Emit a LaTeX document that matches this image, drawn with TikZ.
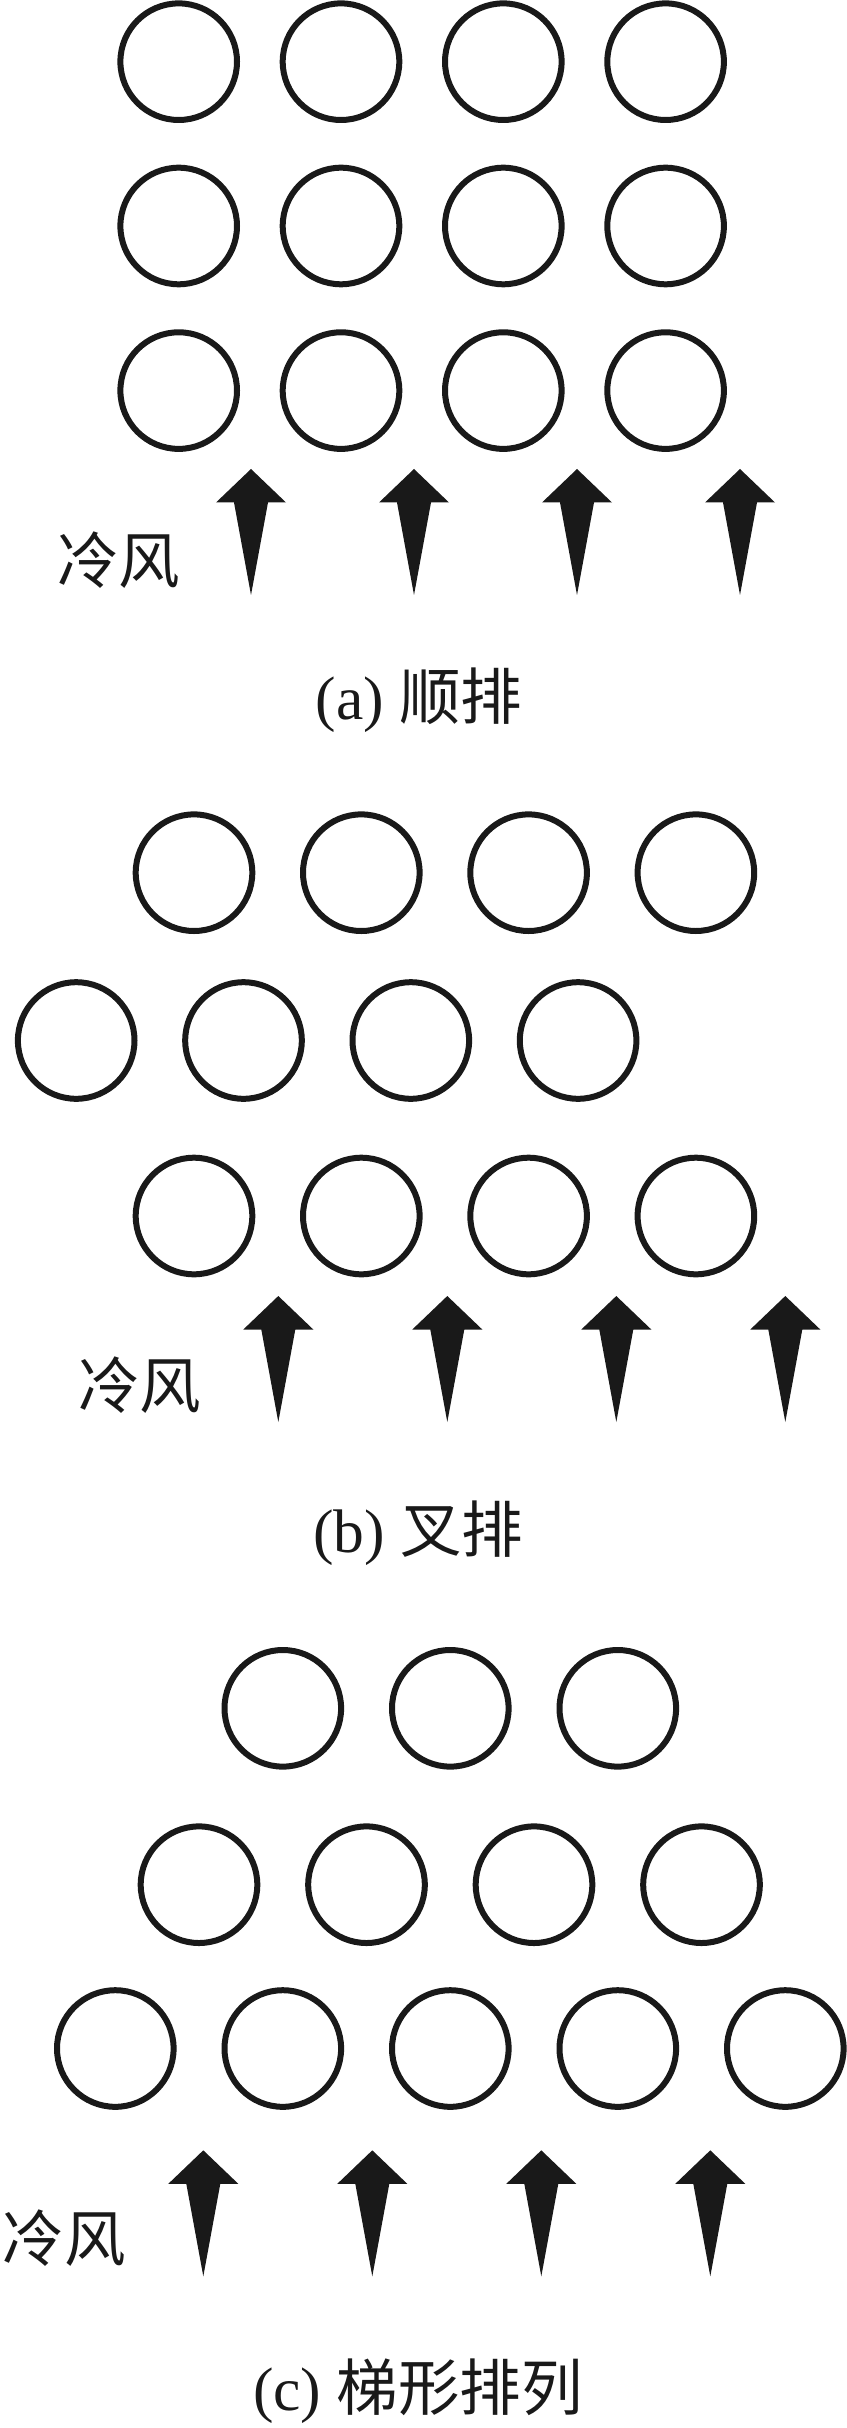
\documentclass[tikz,border=0pt]{standalone}
\usepackage{fontspec}
\setmainfont{Liberation Serif}
\newfontfamily\cjk{Noto Sans CJK SC}
\tikzset{
  tube/.style={circle, draw=black!90, line width=3pt, minimum size=58.3pt, inner sep=0pt},
  figtext/.style={text=black!90, inner sep=0pt, font=\fontsize{30.75pt}{36pt}\selectfont},
  windarrow/.pic={\fill[black!90] (0,0) -- (35,33.5) -- (17,33.5) -- (0,126) -- (-17,33.5) -- (-35,33.5) -- cycle;}
}
\begin{document}
\begin{tikzpicture}[x=0.5pt, y=-0.5pt]
\useasboundingbox (0,0) rectangle (846,2428);

% (a) in-line
\foreach \r/\y in {1/61.7, 2/226, 3/390.6}
  \foreach \c in {1,...,4}
    \node[tube] (a-\r-\c) at ({178.7+162.3*(\c-1)}, \y) {};
\foreach \x in {251,414,577,740}
  \pic at (\x, 469) {windarrow};
\node[figtext] (a-wind) at (118.7, 560) {\cjk 冷风};
\node[figtext] (a-cap) at (419, 700) {(a) {\cjk 顺排}};

% (b) staggered
\foreach \r/\y/\x in {1/872.7/194, 2/1040.5/76.2, 3/1216/194}
  \foreach \c in {1,...,4}
    \node[tube] (b-\r-\c) at ({\x+167.3*(\c-1)}, \y) {};
\foreach \x in {278.3,447.3,616.3,785.3}
  \pic at (\x, 1296) {windarrow};
\node[figtext] (b-wind) at (139.7, 1385) {\cjk 冷风};
\node[figtext] (b-cap) at (418.3, 1533) {(b) {\cjk 叉排}};

% (c) trapezoid
\foreach \c in {2,3,4}
  \node[tube] (c-1-\c) at ({115.3+167.5*(\c-1)}, 1708.3) {};
\foreach \c in {1,...,4}
  \node[tube] (c-2-\c) at ({199+167.5*(\c-1)}, 1884.7) {};
\foreach \c in {1,...,5}
  \node[tube] (c-3-\c) at ({115.3+167.5*(\c-1)}, 2048.5) {};
\foreach \x in {203.3,372.3,541.3,710.3}
  \pic at (\x, 2150.3) {windarrow};
\node[figtext] (c-wind) at (64.5, 2238.5) {\cjk 冷风};
\node[figtext] (c-cap) at (418, 2391) {(c) {\cjk 梯形排列}};
\end{tikzpicture}
\end{document}
